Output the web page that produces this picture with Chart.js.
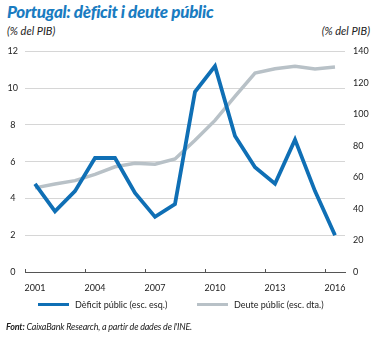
<!DOCTYPE html>
<html>
<head>
<meta charset="utf-8">
<script src="https://cdn.jsdelivr.net/npm/chart.js@4"></script>
<style>
  html, body { margin: 0; padding: 0; background: #fff; }
  body { width: 381px; height: 338px; position: relative; overflow: hidden; font-family: Lato, "Open Sans", sans-serif; color: #222; }
  .title { position: absolute; left: 7px; top: 1px; font-size: 17px; font-weight: 900; font-style: italic; color: #1a7cc1; white-space: nowrap; letter-spacing: -0.3px; }
  .unit { position: absolute; top: 24px; font-size: 11px; font-style: italic; color: #222; white-space: nowrap; }
  #wrap { position: absolute; left: 0; top: 38px; width: 381px; height: 262px; }
  .legend { position: absolute; top: 299px; font-size: 9px; white-space: nowrap; color: #222; }
  .legend span.sw { display: inline-block; width: 31px; height: 3px; vertical-align: middle; margin-right: 6px; position: relative; top: -1px; }
  .foot { position: absolute; left: 6px; top: 321px; font-size: 9px; font-style: italic; white-space: nowrap; color: #222; letter-spacing: -0.2px; }
</style>
</head>
<body>
<div class="title">Portugal: dèficit i deute públic</div>
<div class="unit" style="left:7px">(% del PIB)</div>
<div class="unit" style="right:11px">(% del PIB)</div>
<div id="wrap"><canvas id="chart" width="381" height="262"></canvas></div>
<div class="legend" style="left:38px"><span class="sw" style="background:#0f6fb5"></span>Dèficit públic (esc. esq.)</div>
<div class="legend" style="left:197px"><span class="sw" style="background:#b8c1c7"></span>Deute públic (esc. dta.)</div>
<div class="foot"><b>Font:</b> CaixaBank Research, a partir de dades de l'INE.</div>
<script>
const years = ["2001","2002","2003","2004","2005","2006","2007","2008","2009","2010","2011","2012","2013","2014","2015","2016"];
const deficit = [4.8, 3.3, 4.4, 6.2, 6.2, 4.3, 3.0, 3.7, 9.8, 11.2, 7.4, 5.7, 4.8, 7.2, 4.4, 2.0];
const debt = [53.4, 55.8, 58.0, 62.0, 66.8, 69.0, 68.4, 71.7, 83.6, 96.2, 111.4, 126.2, 129.0, 130.6, 128.8, 130.1];
const labelYears = ["2001","2004","2007","2010","2013","2016"];

const tickFont = { family: "Lato, 'Open Sans', sans-serif", size: 9 };

// short upward tick marks on the x axis at the category boundaries
const upTicks = {
  id: "upTicks",
  afterDraw(chart) {
    const x = chart.scales.x;
    const ctx = chart.ctx;
    ctx.save();
    ctx.strokeStyle = "#555";
    ctx.lineWidth = 1;
    years.forEach((y, i) => {
      if (!labelYears.includes(y)) return;
      const px = Math.round(x.getPixelForValue(i) - x.width / years.length / 2) + 0.5;
      ctx.beginPath();
      ctx.moveTo(px, x.top);
      ctx.lineTo(px, x.top - 3);
      ctx.stroke();
    });
    ctx.restore();
  }
};

new Chart(document.getElementById("chart").getContext("2d"), {
  type: "line",
  data: {
    labels: years,
    datasets: [
      {
        label: "Dèficit públic (esc. esq.)",
        data: deficit,
        yAxisID: "y",
        borderColor: "#0f6fb5",
        borderWidth: 3.8,
        pointRadius: 0,
        tension: 0,
        fill: false
      },
      {
        label: "Deute públic (esc. dta.)",
        data: debt,
        yAxisID: "y2",
        borderColor: "#b8c1c7",
        borderWidth: 3.5,
        pointRadius: 0,
        tension: 0,
        fill: false
      }
    ]
  },
  options: {
    responsive: false,
    animation: false,
    layout: { padding: { top: 12, left: 0, right: 0, bottom: 0 } },
    plugins: { legend: { display: false }, tooltip: { enabled: false } },
    scales: {
      x: {
        offset: true,
        grid: { display: false },
        border: { display: true, color: "#555", width: 1 },
        ticks: {
          font: tickFont, color: "#222", padding: 3, autoSkip: false, maxRotation: 0,
          callback: function (v, i) { return labelYears.includes(years[i]) ? years[i] : ""; }
        },
        afterFit: s => { s.height = 28; }
      },
      y: {
        position: "left",
        min: 0, max: 12,
        ticks: { stepSize: 2, font: tickFont, color: "#222", padding: 7, crossAlign: "center" },
        grid: { color: "#d6d6d6", drawTicks: false },
        border: { display: false },
        afterFit: s => { s.width = 25; }
      },
      y2: {
        position: "right",
        min: 0, max: 140,
        ticks: { stepSize: 20, font: tickFont, color: "#222", padding: 8 },
        grid: { drawOnChartArea: false, drawTicks: false },
        border: { display: false },
        afterFit: s => { s.width = 36; }
      }
    }
  },
  plugins: [upTicks]
});
</script>
</body>
</html>
